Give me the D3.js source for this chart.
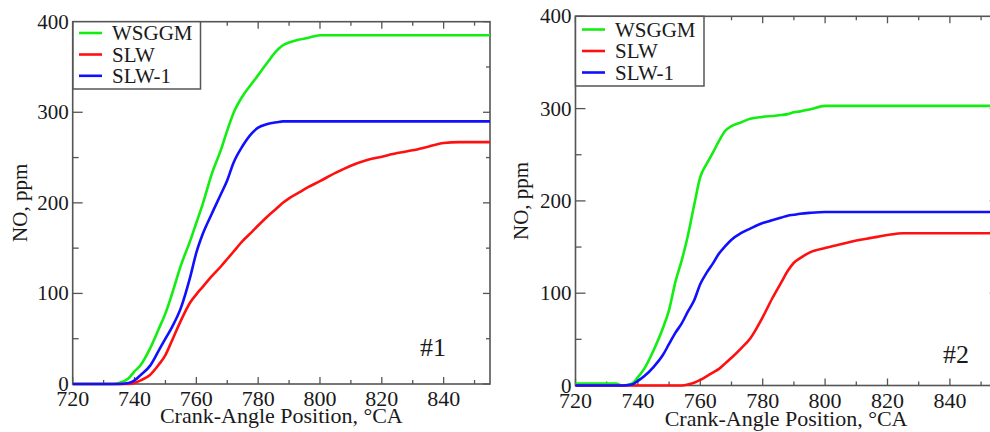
<!DOCTYPE html>
<html><head><meta charset="utf-8">
<script src="https://cdn.jsdelivr.net/npm/d3@7"></script>
<style>
html,body{margin:0;padding:0;background:#fff;}
svg{display:block;}
text{font-family:"Liberation Serif","Times New Roman",serif;fill:#1a1a1a;}
</style></head>
<body>
<svg id="chart" width="990" height="432"></svg>
<script>
// ---- data ----
const seriesNames = ["WSGGM", "SLW", "SLW-1"];
const seriesColors = ["#12ee12", "#ff1010", "#1010ff"];

const xTicks = [720, 740, 760, 780, 800, 820, 840];
const yTicks = [0, 100, 200, 300, 400];

// Case #1
const angles1 = [720,733,735,738,740,742,745,748,750,752,755,758,760,762,765,768,770,772,775,778,780,783,786,788,790,793,796,800,805,810,815,820,825,830,835,840,845,850,855];
const wsggm1 = [0,0,1,6,14,21,39,62,78,98,131,158,178,198,232,259,280,299,318,332,341,355,368,374,377,380,382,385,385,385,385,385,385,385,385,385,385,385,385];
const slw1   = [0,0,0,0,1,4,10,22,32,47,70,90,99,107,119,130,138,146,158,168,175,185,194,200,205,211,217,224,233,241,247,251,255,258,262,266,267,267,267];
const slwOne1= [0,0,0,1,4,10,20,38,50,62,84,118,145,165,188,210,225,244,263,277,283,287,289,290,290,290,290,290,290,290,290,290,290,290,290,290,290,290,290];

// Case #2
const angles2 = [720,733,735,738,740,742,745,748,750,752,754,756,758,760,762,764,766,768,770,773,776,780,783,786,788,790,792,795,800,805,810,815,820,825,830,840,855];
const wsggm2 = [2,2,0,2,9,18,38,62,82,112,135,162,195,226,240,252,265,276,281,285,289,291,292,293,294,296,297,299,303,303,303,303,303,303,303,303,303];
const slw2   = [0,0,0,0,0,0,0,0,0,0,0,1,3,6,10,14,18,24,30,40,51,74,94,112,124,133,138,144,149,153,157,160,163,165,165,165,165];
const slwOne2= [0,0,0,1,5,10,20,33,45,57,67,80,92,110,122,132,143,151,158,165,170,176,179,182,184,185,186,187,188,188,188,188,188,188,188,188,188];

const panels = [
  {angles: angles1, series: [wsggm1, slw1, slwOne1], tag: "#1",
   left: 72.7, right: 490, top: 21.7, bottom: 384,
   legend: {x0: 73, x1: 200.5, y0: 21.7, y1: 89, lineX0: 79, lineX1: 102, textX: 112, base: [40, 61.5, 82.8]},
   tagPos: [420, 356], titleBase: 27, xTitleY: 423},
  {angles: angles2, series: [wsggm2, slw2, slwOne2], tag: "#2",
   left: 575.5, right: 996.7, top: 16.3, bottom: 385.5,
   legend: {x0: 575.5, x1: 704, y0: 16.3, y1: 86, lineX0: 582, lineX1: 605, textX: 615, base: [36.5, 58, 79.5]},
   tagPos: [943, 362.5], titleBase: 528, xTitleY: 426}
];

const svg = d3.select("#chart");
const frameColor = "#555";

panels.forEach((p) => {
  const x = d3.scaleLinear().domain([720, 855]).range([p.left, p.right]);
  const y = d3.scaleLinear().domain([0, 400]).range([p.bottom, p.top]);
  const g = svg.append("g");

  const minorX = d3.range(720, 856, 10);
  const minorY = d3.range(0, 401, 50);

  // ticks (inward) on all sides
  const tickG = g.append("g").attr("stroke", frameColor).attr("stroke-width", 1.3);
  minorX.forEach(v => {
    const major = xTicks.includes(v);
    const len = major ? 7 : 4;
    tickG.append("line").attr("x1", x(v)).attr("x2", x(v)).attr("y1", p.bottom).attr("y2", p.bottom - len);
    tickG.append("line").attr("x1", x(v)).attr("x2", x(v)).attr("y1", p.top).attr("y2", p.top + len);
  });
  minorY.forEach(v => {
    const major = yTicks.includes(v);
    tickG.append("line").attr("x1", p.left).attr("x2", p.left + (major ? 10 : 6)).attr("y1", y(v)).attr("y2", y(v));
    tickG.append("line").attr("x1", p.right).attr("x2", p.right - (major ? 7 : 4)).attr("y1", y(v)).attr("y2", y(v));
  });

  // frame
  g.append("rect").attr("x", p.left).attr("y", p.top)
    .attr("width", p.right - p.left).attr("height", p.bottom - p.top)
    .attr("fill", "none").attr("stroke", frameColor).attr("stroke-width", 1.6);

  // curves
  const line = d3.line().x((d, i) => x(p.angles[i])).y(d => y(d)).curve(d3.curveMonotoneX);
  p.series.forEach((vals, si) => {
    g.append("path").datum(vals).attr("d", line)
      .attr("fill", "none").attr("stroke", seriesColors[si]).attr("stroke-width", 2.6)
      .attr("stroke-linejoin", "round");
  });

  // tick labels
  xTicks.forEach(v => {
    g.append("text").attr("x", x(v)).attr("y", p.bottom + 22)
      .attr("text-anchor", "middle").attr("font-size", 22).text(v);
  });
  yTicks.forEach(v => {
    g.append("text").attr("x", p.left - 4).attr("y", y(v) + 7)
      .attr("text-anchor", "end").attr("font-size", 21).text(v);
  });

  // axis titles
  g.append("text").attr("x", (p.left + p.right) / 2)
    .attr("y", p.xTitleY).attr("text-anchor", "middle").attr("font-size", 22)
    .text("Crank-Angle Position, °CA");
  g.append("text").attr("transform", `translate(${p.titleBase},${(p.top + p.bottom) / 2}) rotate(-90)`)
    .attr("text-anchor", "middle").attr("font-size", 21).text("NO, ppm");

  // legend
  const L = p.legend;
  g.append("rect").attr("x", L.x0).attr("y", L.y0).attr("width", L.x1 - L.x0).attr("height", L.y1 - L.y0)
    .attr("fill", "#fff").attr("stroke", frameColor).attr("stroke-width", 1.5);
  seriesNames.forEach((name, si) => {
    g.append("line").attr("x1", L.lineX0).attr("x2", L.lineX1)
      .attr("y1", L.base[si] - 7).attr("y2", L.base[si] - 7)
      .attr("stroke", seriesColors[si]).attr("stroke-width", 2.6);
    g.append("text").attr("x", L.textX).attr("y", L.base[si]).attr("font-size", 21).text(name);
  });

  // case tag
  g.append("text").attr("x", p.tagPos[0]).attr("y", p.tagPos[1]).attr("font-size", 26).text(p.tag);
});
</script>
</body></html>
